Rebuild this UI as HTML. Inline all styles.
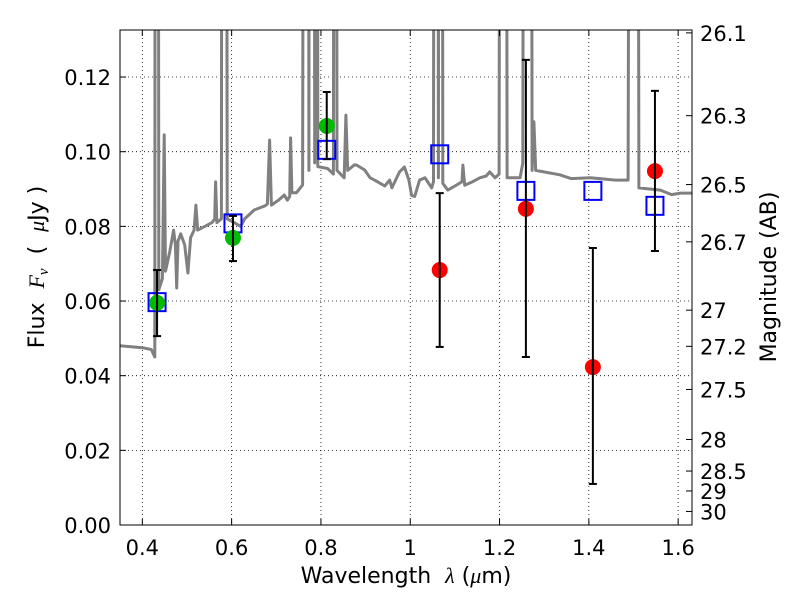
<!DOCTYPE html>
<html><head><meta charset="utf-8"><style>
body{margin:0;background:#fff;}
svg{display:block;font-family:"DejaVu Sans","Liberation Sans",sans-serif;}
</style></head><body>
<svg id="chart" width="800" height="600">
<defs><clipPath id="pc"><rect x="120" y="30" width="572" height="495"/></clipPath></defs>
<rect x="0" y="0" width="800" height="600" fill="#fff"/>
<g id="grid"></g>
<g id="spec" clip-path="url(#pc)"></g>
<g id="marks" clip-path="url(#pc)"></g>
<rect x="120" y="30" width="572" height="495" fill="none" stroke="#000" stroke-width="1"/>
<g id="axes"></g>
<text x="406" y="583" font-size="22" text-anchor="middle">Wavelength&#160;&#160;<tspan font-family="Liberation Serif" font-style="italic">λ</tspan>&#160;(<tspan font-family="Liberation Serif" font-style="italic">μ</tspan>m)</text>
<text transform="translate(44,267) rotate(-90)" font-size="22" text-anchor="middle">Flux&#160;&#160;<tspan font-family="Liberation Serif" font-style="italic">F<tspan font-size="15" dy="4">ν</tspan></tspan><tspan dy="-4">&#160;&#160;(&#160;&#160;</tspan><tspan font-family="Liberation Serif" font-style="italic">μ</tspan>Jy&#160;)</text>
<text transform="translate(776,277) rotate(-90)" font-size="22" text-anchor="middle">Magnitude (AB)</text>
</svg>
<script>
const specWave=[0.35,0.40,0.42,0.428,0.430,0.434,0.437,0.445,0.449,0.452,0.461,0.470,0.474,0.477,0.480,0.486,0.495,0.502,0.508,0.516,0.520,0.524,0.540,0.556,0.562,0.564,0.567,0.577,0.580,0.586,0.590,0.606,0.62,0.629,0.651,0.675,0.680,0.685,0.689,0.705,0.718,0.725,0.730,0.732,0.735,0.745,0.759,0.765,0.770,0.773,0.776,0.783,0.786,0.790,0.793,0.815,0.828,0.832,0.836,0.852,0.856,0.860,0.875,0.880,0.898,0.910,0.920,0.943,0.954,0.959,0.976,0.987,0.997,1.003,1.010,1.021,1.033,1.048,1.052,1.055,1.060,1.063,1.066,1.070,1.073,1.084,1.100,1.111,1.116,1.118,1.122,1.140,1.156,1.170,1.178,1.190,1.199,1.204,1.212,1.217,1.246,1.252,1.258,1.268,1.273,1.277,1.281,1.335,1.360,1.403,1.460,1.488,1.496,1.506,1.512,1.560,1.585,1.606,1.631];
const specFlux=[0.048,0.0475,0.047,0.045,0.5,0.5,0.063,0.066,0.1045,0.068,0.073,0.079,0.075,0.0635,0.076,0.078,0.075,0.0675,0.077,0.079,0.0857,0.079,0.080,0.081,0.082,0.0919,0.081,0.082,0.5,0.5,0.082,0.081,0.080,0.082,0.0844,0.0855,0.086,0.1031,0.0857,0.087,0.0884,0.087,0.088,0.1037,0.089,0.089,0.0911,0.5,0.5,0.095,0.5,0.5,0.097,0.5,0.096,0.0955,0.094,0.5,0.095,0.093,0.1098,0.095,0.0965,0.0964,0.0951,0.093,0.0924,0.0908,0.0924,0.0903,0.0946,0.0959,0.0924,0.0883,0.088,0.0924,0.093,0.0903,0.092,0.5,0.5,0.093,0.5,0.5,0.0915,0.0897,0.0908,0.0916,0.092,0.0964,0.091,0.092,0.093,0.0935,0.0946,0.093,0.094,0.5,0.5,0.093,0.093,0.097,0.5,0.5,0.095,0.108,0.095,0.0938,0.0928,0.093,0.0924,0.0924,0.5,0.5,0.0903,0.0897,0.0885,0.0889,0.0889];
const greenWave=[0.433,0.603,0.813];
const greenFlux=[0.0595,0.0769,0.1069];
const greenHi=[0.0683,0.0828,0.116];
const greenLo=[0.0506,0.0707,0.098];
const squareWave=[0.433,0.603,0.813,1.066,1.259,1.409,1.548];
const squareFlux=[0.0597,0.0808,0.1005,0.0993,0.0895,0.0895,0.0855];
const redWave=[1.066,1.259,1.409,1.548];
const redFlux=[0.0683,0.0847,0.0423,0.0948];
const redHi=[0.0889,0.1246,0.0742,0.1163];
const redLo=[0.0477,0.045,0.011,0.0734];
const xTicks=[0.4,0.6,0.8,1.0,1.2,1.4,1.6];
const xTickLabels=["0.4","0.6","0.8","1","1.2","1.4","1.6"];
const yTicks=[0,0.02,0.04,0.06,0.08,0.10,0.12];
const yTickLabels=["0.00","0.02","0.04","0.06","0.08","0.10","0.12"];
const magTicks=[26.1,26.3,26.5,26.7,27,27.2,27.5,28,28.5,29,30];

const X0=120,X1=692,Y0=525,Y1=30,xmin=0.35,xmax=1.631,ymin=0,ymax=0.1326;
const sx=v=>X0+(v-xmin)/(xmax-xmin)*(X1-X0);
const sy=v=>Y0-(v-ymin)/(ymax-ymin)*(Y0-Y1);
const NS="http://www.w3.org/2000/svg";
function mk(tag,attrs,parent){const e=document.createElementNS(NS,tag);for(const k in attrs)e.setAttribute(k,attrs[k]);parent.appendChild(e);return e;}
const grid=document.getElementById('grid'),axes=document.getElementById('axes'),spec=document.getElementById('spec'),marks=document.getElementById('marks');

xTicks.forEach((t,i)=>{const x=sx(t);
 const g=mk('line',{x1:x,x2:x,y1:Y1,y2:Y0,stroke:'#000','stroke-width':0.8,'stroke-dasharray':'1,3'},grid);
 
 
 mk('line',{x1:x,x2:x,y1:Y0,y2:Y0-6,stroke:'#000'},axes);
 mk('line',{x1:x,x2:x,y1:Y1,y2:Y1+6,stroke:'#000'},axes);
 const l=mk('text',{x:x,y:Y0+30,'font-size':21,'text-anchor':'middle'},axes);l.textContent=xTickLabels[i];
 
 
});
yTicks.forEach((t,i)=>{const y=sy(t);
 const g=mk('line',{x1:X0,x2:X1,y1:y,y2:y,stroke:'#000','stroke-width':0.8,'stroke-dasharray':'1,3'},grid);
 
 
 mk('line',{x1:X0,x2:X0+6,y1:y,y2:y,stroke:'#000'},axes);
 const l=mk('text',{x:X0-9,y:y+8,'font-size':21,'text-anchor':'end'},axes);l.textContent=yTickLabels[i];
 
 
});
magTicks.forEach(m=>{const f=Math.pow(10,(23.9-m)/2.5);const y=sy(f);
 mk('line',{x1:X1-6,x2:X1,y1:y,y2:y,stroke:'#000'},axes);
 const l=mk('text',{x:X1+8,y:y+8,'font-size':21},axes);l.textContent=String(m);
 
 
});

const pts=specWave.map((w,i)=>sx(w).toFixed(1)+','+sy(specFlux[i]).toFixed(1)).join(' ');
const pl=mk('polyline',{points:pts,fill:'none',stroke:'#808080','stroke-width':3,'stroke-linejoin':'round'},spec);



function errbar(x,lo,hi){const X=sx(x);
 const g=mk('g',{stroke:'#000','stroke-width':2},marks);
 
 
 mk('line',{x1:X,x2:X,y1:sy(lo),y2:sy(hi)},g);
 mk('line',{x1:X-4,x2:X+4,y1:sy(lo),y2:sy(lo)},g);
 mk('line',{x1:X-4,x2:X+4,y1:sy(hi),y2:sy(hi)},g);}
squareWave.forEach((w,i)=>{const s=mk('rect',{x:sx(w)-8.5,y:sy(squareFlux[i])-9,width:17,height:18,fill:'none',stroke:'#0000ff','stroke-width':2},marks);
 
 });
greenWave.forEach((w,i)=>{const c=mk('circle',{cx:sx(w),cy:sy(greenFlux[i]),r:8,fill:'#00bb00'},marks);
 
 
 errbar(w,greenLo[i],greenHi[i]);});
redWave.forEach((w,i)=>{const c=mk('circle',{cx:sx(w),cy:sy(redFlux[i]),r:8,fill:'#ff0000'},marks);
 
 
 errbar(w,redLo[i],redHi[i]);});
</script>
</body></html>
